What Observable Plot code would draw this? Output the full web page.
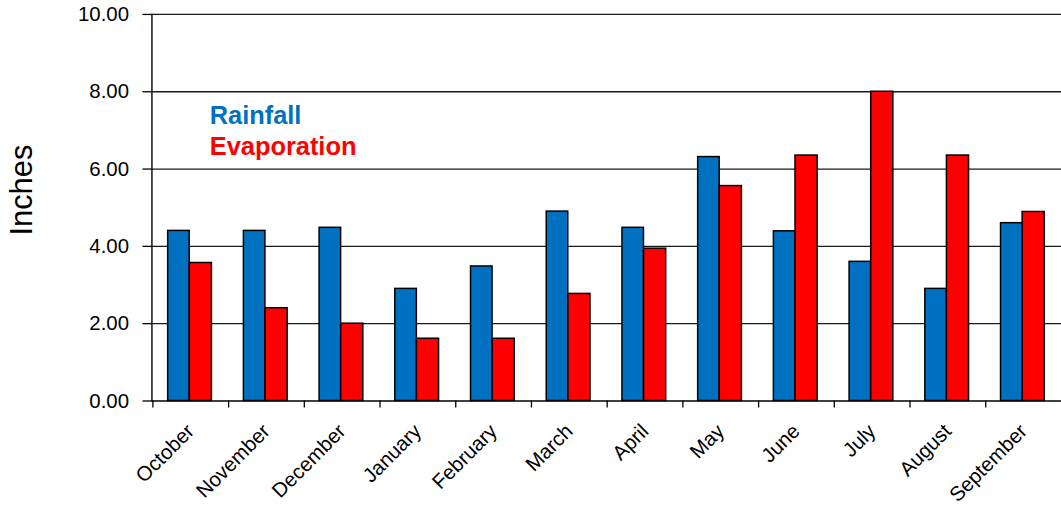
<!DOCTYPE html>
<html>
<head>
<meta charset="utf-8">
<script src="https://cdn.jsdelivr.net/npm/d3@7"></script>
<script src="https://cdn.jsdelivr.net/npm/@observablehq/plot@0.6"></script>
<style>
  html, body { margin: 0; padding: 0; background: #fff; overflow: hidden; }
  #chart { width: 1061px; height: 514px; overflow: hidden; }
</style>
</head>
<body>
<div id="chart"></div>
<script>
const months = ["October","November","December","January","February","March","April","May","June","July","August","September"];
const rainfall = [4.40, 4.40, 4.48, 2.90, 3.48, 4.90, 4.48, 6.31, 4.39, 3.60, 2.90, 4.60];
const evaporation = [3.57, 2.40, 2.00, 1.61, 1.61, 2.77, 3.94, 5.56, 6.35, 8.00, 6.35, 4.89];
const seriesNames = ["Rainfall", "Evaporation"];
const seriesColors = ["#0070C0", "#FF0000"];
const yTicks = [0, 2, 4, 6, 8, 10];
const yLabel = "Inches";

const rainRows = months.map((m, i) => ({month: m, value: rainfall[i]}));
const evapRows = months.map((m, i) => ({month: m, value: evaporation[i]}));

const font = "'Liberation Sans', Arial, Helvetica, sans-serif";

const chart = Plot.plot({
  width: 1065,
  height: 514,
  marginLeft: 152,
  marginRight: 0,
  marginTop: 14,
  marginBottom: 112,
  style: {fontFamily: font, fontSize: "20px", color: "#000", background: "#fff", overflow: "visible"},
  x: {type: "band", domain: months, padding: 0},
  y: {domain: [0, 10]},
  marks: [
    Plot.ruleY(yTicks.filter(d => d > 0), {stroke: "#1a1a1a", strokeWidth: 1.3}),
    Plot.barY(rainRows, {x: "month", y: "value", fill: seriesColors[0], stroke: "#000", strokeWidth: 1.5, insetLeft: 15.3, insetRight: 39.1}),
    Plot.barY(evapRows, {x: "month", y: "value", fill: seriesColors[1], stroke: "#000", strokeWidth: 1.5, insetLeft: 37, insetRight: 16.8}),
    Plot.ruleY([0], {stroke: "#000", strokeWidth: 1.4}),
    Plot.frame({anchor: "left", stroke: "#000", strokeWidth: 1.4}),
    Plot.axisY({ticks: yTicks, tickFormat: d => d.toFixed(2), tickSize: 9, tickPadding: 14, fontSize: 20.5, label: null, strokeWidth: 1.3}),
    Plot.axisX({fill: "none", tickSize: 7, dx: -38.04, label: null, strokeWidth: 1.3}),
    Plot.axisX({tickSize: 0, tickRotate: -45, tickPadding: 27, fontSize: 20.5, label: null}),
    Plot.text([seriesNames[0]], {text: d => d, frameAnchor: "top-left", textAnchor: "start", lineAnchor: "bottom", dx: 58, dy: 110, fill: seriesColors[0], fontWeight: "bold", fontSize: 25.5}),
    Plot.text([seriesNames[1]], {text: d => d, frameAnchor: "top-left", textAnchor: "start", lineAnchor: "bottom", dx: 58, dy: 141, fill: seriesColors[1], fontWeight: "bold", fontSize: 25.5}),
    Plot.text([yLabel], {text: d => d, frameAnchor: "left", rotate: -90, dx: -130, dy: 28, fontSize: 31})
  ]
});
document.getElementById("chart").append(chart);
</script>
</body>
</html>
